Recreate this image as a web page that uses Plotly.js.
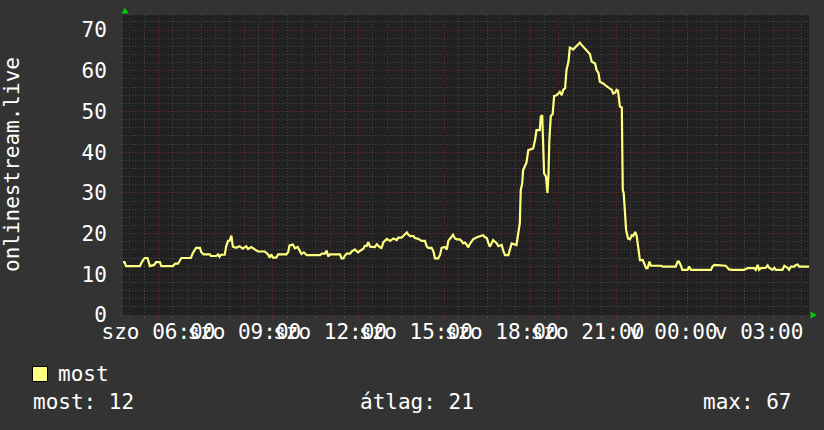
<!DOCTYPE html>
<html>
<head>
<meta charset="utf-8">
<script src="https://cdn.plot.ly/plotly-3.0.1.min.js"></script>
<style>
  html, body { margin: 0; padding: 0; background: #333333; }
  #chart { width: 824px; height: 430px; }
</style>
</head>
<body>
<div id="chart"></div>
<script>
// ---- data (szo = Saturday, v = Sunday) ----
const seriesName = "most";
const yAxisTitle = "onlinestream.live";

const times = ["04:45","04:49","04:52","05:21","05:25","05:31","05:37","05:38","05:42","05:51",
"05:55","06:03","06:06","06:30","06:35","06:41","06:45","06:48","07:08","07:12",
"07:19","07:27","07:30","07:35","07:48","07:50","08:01","08:05","08:08","08:11",
"08:19","08:22","08:26","08:29","08:33","08:36","08:43","08:50","08:57","09:04",
"09:08","09:15","09:22","09:29","09:43","09:50","09:53","09:57","10:00","10:07",
"10:11","10:28","10:32","10:35","10:42","10:46",
"10:52","10:57","11:00","11:05","11:11","11:39","11:43","11:49","11:53","11:56",
"12:00","12:21","12:24","12:28","12:31","12:35","12:42","12:45","12:52","12:56",
"12:59","13:03","13:06","13:10","13:13","13:17","13:20","13:24","13:34","13:38",
"13:45","13:48","13:52","13:59","14:06","14:13","14:20","14:23","14:30","14:34",
"14:41","14:44","14:48","14:55","14:58","15:05","15:12","15:19","15:23","15:26",
"15:33","15:37","15:40","15:47","15:51","15:54","16:01","16:05","16:08","16:12",
"16:18","16:22","16:26","16:32","16:36","16:39","16:43","16:47","16:50","16:53",
"17:00","17:08","17:15","17:21","17:25","17:29","17:32","17:35","17:39","17:42",
"17:46","17:50","17:53","18:00","18:03","18:07","18:14","18:17","18:21","18:31",
"18:35","18:38","18:40","18:43","18:45","18:52","18:56","19:06","19:10","19:13",
"19:20","19:22","19:25","19:27","19:29","19:33","19:36","19:38","19:40","19:43",
"19:47","19:50","19:55","19:59","20:02","20:06","20:09","20:13","20:16","20:20",
"20:23","20:27","20:30","20:34","20:37","20:41","20:44","20:48","20:51","20:55",
"21:02","21:05","21:09","21:16","21:19","21:23","21:26","21:33","21:40","21:47",
"21:51","21:54","21:58","22:01","22:04","22:08","22:12","22:14","22:16","22:21",
"22:25","22:29","22:33","22:36","22:40","22:43","22:46","22:50",
"22:56","22:59","23:03","23:06","23:10","23:13","23:19","23:34","23:38","00:05",
"00:09","00:12","00:16","00:19","00:30","00:33","00:37","01:19","01:22","01:26",
"01:50","01:54","01:57","02:04","02:29","02:32","02:36","02:50","02:53","02:57",
"03:00","03:04","03:11","03:14","03:18","03:21","03:28","03:32","03:35","03:49",
"03:53","03:56","04:00","04:03","04:07","04:14","04:17","04:21","04:24","04:45"];

const values = [13,13,12,12,13,14,14,13.5,12,12.3,
13,13,12,12,12.6,12.6,13.3,14,14,15.2,
16.5,16.5,15.4,14.9,14.9,14.5,14.5,14.9,14.3,14.8,
14.8,16.8,18.2,18.2,19.5,16.8,16.5,16.9,16.3,16.9,
16.2,16.7,16.1,15.6,15.6,14.9,14.1,14.9,14.1,14.1,
14.9,14.9,15.4,17.1,17.3,16.4,
16.7,15.6,15,15.4,14.7,14.7,15.1,15.1,15.8,14.4,
14.9,14.9,13.9,13.9,14.6,15.1,15.1,15.6,16.1,15.6,
15.4,15.8,16.1,16.3,17,17,17.9,16.8,16.7,17.4,
16.6,16.5,17.9,18.7,18.2,18.8,18.4,19,19,19.5,
20.3,19.8,19.4,19.4,18.9,18.7,18.2,18.2,16.8,16.5,
16.5,15.6,13.9,13.9,14.9,16.5,16.7,16.1,18.2,18.8,
19.7,18.8,18.6,18.6,18.2,17.6,17.8,17.2,16.6,17.4,
18.6,19.1,19.4,19.6,19.1,18.9,17.7,16.8,17.6,18.4,
18,17.6,16.9,17.2,15.9,14.7,14.7,15.9,17.6,17.2,
20.9,22.5,30.7,32.3,35.6,37.4,40.5,40.9,43,45.4,
45.4,48.7,49.1,43,34.8,34,30,34,43,48.9,
49.4,53.8,54,54.4,54.8,54,55.3,55.7,60.2,62.2,
65.7,65.5,65.2,65.7,66.1,66.7,66.9,66.3,65.9,65.2,
64.4,64.1,62.2,61.8,60.2,59.5,57.3,56.9,56.2,55.7,
55.3,54.4,54.6,55.3,55.1,51.2,51,30.7,29.9,20.9,
18.8,18.6,19.6,19.4,20.4,19.6,16.8,13.5,
13.5,12.4,11.5,11.5,13.1,12.1,12.1,12.1,11.9,11.9,
13.1,13.1,12.1,11.1,11.1,11.9,11.1,11.1,11.9,12.3,
12.1,11.6,11.2,11.1,11.1,11.3,11.5,11.5,11.1,12.3,
11.1,11.5,11.5,11.6,12.2,11.6,11.1,11.6,11.1,11.1,
12.1,11.9,11.6,11.1,11.9,11.9,12.3,12.4,11.9,11.9];

const tickHours  = [6, 9, 12, 15, 18, 21, 24, 27];
const tickLabels = ["szo 06:00","szo 09:00","szo 12:00","szo 15:00","szo 18:00","szo 21:00","v 00:00","v 03:00"];
const yTicks = [0, 10, 20, 30, 40, 50, 60, 70];

const statLabels = ["most", "átlag", "max"];
const statValues = [12, 21, 67];

// ---- convert clock times to continuous hours (wrap past midnight) ----
const hours = [];
let dayOffset = 0, prev = -1;
times.forEach(t => {
  const [h, m] = t.split(":").map(Number);
  let v = h + m / 60;
  if (prev >= 0 && v + dayOffset < prev - 1) dayOffset += 24;
  v += dayOffset;
  hours.push(v);
  prev = v;
});

// hourly major grid, labels every 3 hours
const majorVals = [], majorText = [];
for (let h = 5; h <= 28; h++) {
  majorVals.push(h);
  const i = tickHours.indexOf(h);
  majorText.push(i >= 0 ? tickLabels[i] : "");
}

const FONT = "DejaVu Sans Mono";
const RED = "rgb(112,40,40)";
const GREY = "rgb(72,72,72)";
const DASH = "1px,2px";

const L = 123, R = 809, T = 15, B = 315;
const px2x = px => (px - L) / (R - L);
const py2y = py => (B - py) / (B - T);

const trace = {
  type: "scatter", mode: "lines", name: seriesName,
  x: hours, y: values,
  line: { color: "#FFFF80", width: 2.2 },
  showlegend: false, hoverinfo: "skip"
};

const layout = {
  width: 824, height: 430,
  margin: { l: L, r: 824 - R, t: T, b: 430 - B },
  paper_bgcolor: "#333333",
  plot_bgcolor: "#212121",
  font: { family: FONT, color: "#ffffff", size: 21 },
  showlegend: false,
  xaxis: {
    range: [4.76, 28.745],
    tickmode: "array", tickvals: majorVals, ticktext: majorText,
    tickangle: 0, autotickangles: [0],
    showgrid: true, gridcolor: RED, griddash: DASH, gridwidth: 1,
    ticks: "outside", ticklen: 2, tickcolor: RED,
    zeroline: false, showline: false,
    tickfont: { family: FONT, size: 21, color: "#ffffff" },
    ticklabelstandoff: -4, ticklabeloverflow: "allow",
    minor: { tickmode: "linear", tick0: 0, dtick: 0.5, showgrid: true,
             gridcolor: GREY, griddash: DASH, gridwidth: 1,
             ticks: "outside", ticklen: 2, tickcolor: GREY }
  },
  yaxis: {
    range: [0, 73.7],
    tickmode: "array", tickvals: yTicks,
    showgrid: true, gridcolor: RED, griddash: DASH, gridwidth: 1,
    ticks: "outside", ticklen: 2, tickcolor: RED,
    zeroline: false, showline: false,
    tickfont: { family: FONT, size: 21, color: "#ffffff" },
    ticklabelstandoff: 9,
    minor: { tickmode: "linear", tick0: 0, dtick: 2, showgrid: true,
             gridcolor: GREY, griddash: DASH, gridwidth: 1,
             ticks: "outside", ticklen: 2, tickcolor: GREY }
  },
  shapes: [
    // legend swatch
    { type: "rect", xref: "paper", yref: "paper",
      x0: px2x(32.5), x1: px2x(47.5), y0: py2y(381.5), y1: py2y(366.5),
      fillcolor: "#FFFF80", line: { color: "#000000", width: 1 } },
    // green axis arrows
    { type: "path", xref: "paper", yref: "paper",
      path: `M ${px2x(121.5)},${py2y(13.5)} L ${px2x(128.5)},${py2y(13.5)} L ${px2x(125)},${py2y(7.5)} Z`,
      fillcolor: "#00CC00", line: { width: 0 } },
    { type: "path", xref: "paper", yref: "paper",
      path: `M ${px2x(810.5)},${py2y(311.5)} L ${px2x(810.5)},${py2y(318.5)} L ${px2x(817)},${py2y(315)} Z`,
      fillcolor: "#00CC00", line: { width: 0 } }
  ],
  annotations: [
    { text: yAxisTitle, xref: "paper", yref: "paper", x: px2x(12), y: py2y(165),
      xanchor: "center", yanchor: "middle", textangle: -90, showarrow: false,
      font: { family: FONT, size: 21, color: "#ffffff" } },
    { text: seriesName, xref: "paper", yref: "paper", x: px2x(56), y: py2y(374),
      xanchor: "left", yanchor: "middle", showarrow: false,
      font: { family: FONT, size: 21, color: "#ffffff" } },
    { text: statLabels[0] + ": " + statValues[0], xref: "paper", yref: "paper",
      x: px2x(31), y: py2y(402), xanchor: "left", yanchor: "middle", showarrow: false,
      font: { family: FONT, size: 21, color: "#ffffff" } },
    { text: statLabels[1] + ": " + statValues[1], xref: "paper", yref: "paper",
      x: px2x(358), y: py2y(402), xanchor: "left", yanchor: "middle", showarrow: false,
      font: { family: FONT, size: 21, color: "#ffffff" } },
    { text: statLabels[2] + ": " + statValues[2], xref: "paper", yref: "paper",
      x: px2x(794), y: py2y(402), xanchor: "right", yanchor: "middle", showarrow: false,
      font: { family: FONT, size: 21, color: "#ffffff" } }
  ]
};

Plotly.newPlot("chart", [trace], layout, { staticPlot: true, displayModeBar: false });
</script>
</body>
</html>
